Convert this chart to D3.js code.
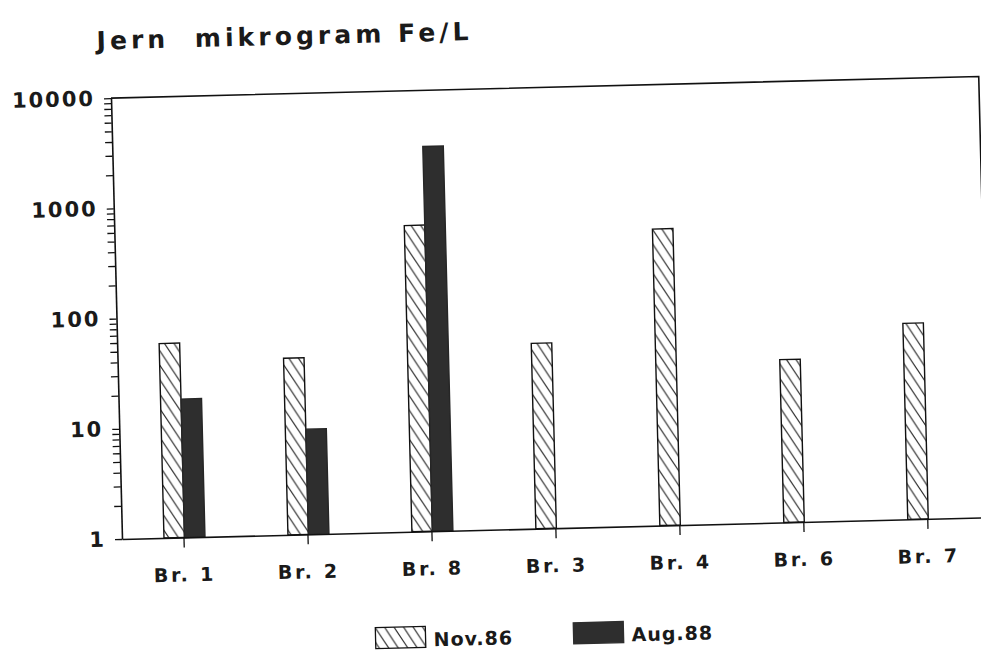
<!DOCTYPE html>
<html>
<head>
<meta charset="utf-8">
<script src="https://cdn.jsdelivr.net/npm/d3@7"></script>
<style>
  body { margin: 0; background: #fff; }
  text { font-family: "DejaVu Sans", Arial, sans-serif; fill: #1a1a1a; }
</style>
</head>
<body>
<svg id="chart" width="981" height="658"></svg>
<script>
// data
const stations  = ["Br. 1", "Br. 2", "Br. 8", "Br. 3", "Br. 4", "Br. 6", "Br. 7"],
      series    = ["Nov.86", "Aug.88"],
      nov86     = [58, 40, 600, 48, 490, 30, 60],
      aug88     = [18, 9, 3100, null, null, null, null],
      majorTicks = [1, 10, 100, 1000, 10000];

let width   = 868,
    height  = 441,
    svg     = d3.select('#chart'),
    defs    = svg.append('defs');

// hatch "\\\" for Nov.86
let pat = defs.append('pattern')
    .attr('id', 'hatch')
    .attr('patternUnits', 'userSpaceOnUse')
    .attr('width', 9.4).attr('height', 15);
pat.append('rect').attr('width', 9.4).attr('height', 15).attr('fill', '#fff');
pat.append('path')
    .attr('d', 'M-9.4,-15L18.8,30M0,-15L18.8,15M-9.4,0L9.4,30')
    .attr('stroke', '#222').attr('stroke-width', 1.1);

// scanned page is slightly tilted
let g = svg.append('g')
    .attr('transform', 'translate(122,539) rotate(-1.43)');

let x = d3.scaleBand()
    .domain(stations)
    .range([0, width]);

let xs = d3.scaleBand()
    .domain(series)
    .range([-20, 21]);

let y = d3.scaleLog()
    .domain([1, 10000])
    .range([0, -height]);

let minor = [];
majorTicks.slice(0, -1).forEach(p => { for (let k = 1; k < 10; k++) minor.push(p * k); });
minor.push(10000);

let fill = { "Nov.86": "url(#hatch)", "Aug.88": "#2e2e2e" };
let rows = [];
stations.forEach((s, i) => {
    rows.push({ st: s, se: "Nov.86", v: nov86[i] });
    if (aug88[i] != null) rows.push({ st: s, se: "Aug.88", v: aug88[i] });
});

g.selectAll('.bar')
    .data(rows)
    .enter()
    .append('rect')
    .classed('bar', true)
    .attr('x', d => x(d.st) + x.bandwidth() / 2 + xs(d.se))
    .attr('width', xs.bandwidth())
    .attr('y', d => y(d.v))
    .attr('height', d => -y(d.v))
    .attr('fill', d => fill[d.se])
    .attr('stroke', d => d.se == "Nov.86" ? '#111' : '#262626')
    .attr('stroke-width', 1.4);

// frame top + right
g.append('path')
    .attr('d', `M0,${-height}H${width}V0`)
    .attr('fill', 'none').attr('stroke', '#111').attr('stroke-width', 1.6);

let yAxis = g.append('g')
    .call(d3.axisLeft(y)
        .tickValues(minor)
        .tickSize(7)
        .tickSizeOuter(0)
        .tickPadding(9)
        .tickFormat(d => majorTicks.includes(d) ? d : ""));

yAxis.selectAll('text')
    .attr('font-size', 21).attr('font-weight', 'bold')
    .attr('letter-spacing', 2);

let xAxis = g.append('g')
    .call(d3.axisBottom(x)
        .tickSize(10)
        .tickSizeOuter(0));

xAxis.selectAll('text')
    .attr('y', 44).attr('dy', null)
    .attr('font-size', 19).attr('font-weight', 'bold')
    .attr('letter-spacing', 2.8);

g.selectAll('.domain').attr('stroke', '#111').attr('stroke-width', 1.6);
g.selectAll('.tick line').attr('stroke', '#111').attr('stroke-width', 1.3);

// title
g.append('text')
    .attr('x', -13).attr('y', -490)
    .attr('font-size', 25)
    .attr('font-weight', 'bold')
    .attr('textLength', 372)
    .attr('lengthAdjust', 'spacing')
    .attr('xml:space', 'preserve')
    .text('Jern  mikrogram Fe/L');

// legend
let leg = g.selectAll('.legend')
    .data(series)
    .enter()
    .append('g')
    .attr('transform', (d, i) => `translate(${251 + i * 198},95)`);

leg.append('rect')
    .attr('width', 50).attr('height', 21)
    .attr('fill', d => fill[d])
    .attr('stroke', d => d == "Nov.86" ? '#111' : '#2e2e2e')
    .attr('stroke-width', 1.3);

leg.append('text')
    .attr('x', 58).attr('y', 20)
    .attr('font-size', 19).attr('font-weight', 'bold')
    .attr('letter-spacing', 1)
    .text(d => d);
</script>
</body>
</html>
